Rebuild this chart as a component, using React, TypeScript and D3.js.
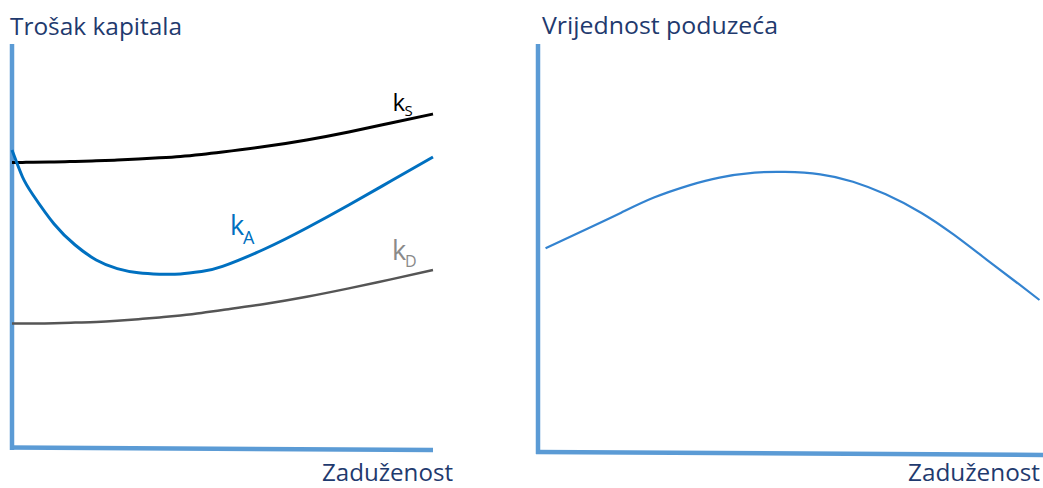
import React from "react";
import * as d3 from "d3";

// left panel: cost of capital vs leverage (values in %)
const leverage = [0, 0.025, 0.05, 0.1, 0.15, 0.2, 0.25, 0.3, 0.35, 0.4, 0.45, 0.5, 0.6, 0.7, 0.8, 0.9, 1];
const kS = [14.18, 14.18, 14.19, 14.2, 14.23, 14.26, 14.3, 14.35, 14.41, 14.48, 14.58, 14.7, 14.97, 15.3, 15.7, 16.15, 16.6];
const kA = [14.8, 13.45, 12.55, 11.1, 10.05, 9.3, 8.87, 8.66, 8.59, 8.6, 8.72, 8.98, 9.85, 10.9, 12.05, 13.25, 14.45];
const kD = [6.13, 6.13, 6.13, 6.14, 6.17, 6.2, 6.26, 6.34, 6.43, 6.53, 6.65, 6.8, 7.1, 7.46, 7.88, 8.33, 8.8];

// right panel: firm value vs leverage
const leverageV = [0.015, 0.1, 0.165, 0.23, 0.3, 0.36, 0.43, 0.49, 0.56, 0.625, 0.69, 0.76, 0.825, 0.89, 0.955, 0.995];
const firmValue = [50.2, 55.1, 58.9, 62.6, 65.6, 67.5, 68.7, 68.9, 68.3, 66.5, 63.4, 58.9, 53.5, 47.4, 41.3, 37.5];

const titles = ["Trošak kapitala", "Vrijednost poduzeća"];
const xLabel = "Zaduženost";

const W = 1043;
const H = 488;
const font = "'Open Sans', 'Noto Sans', sans-serif";
const navy = "#1f3a6e";
const axisBlue = "#5b9bd5";

const App: React.FC = () => {
  const xL = d3.scaleLinear().domain([0, 1]).range([12, 433]);
  const yL = d3.scaleLinear().domain([0, 20]).range([446, 46]);
  const xR = d3.scaleLinear().domain([0, 1]).range([538, 1042]);
  const yR = d3.scaleLinear().domain([0, 100]).range([453, 45]);

  const lineL = (vals: number[]) =>
    d3
      .line<number>()
      .x((_, i) => xL(leverage[i]))
      .y((d) => yL(d))
      .curve(d3.curveNatural)(vals) || "";

  const lineR =
    d3
      .line<number>()
      .x((_, i) => xR(leverageV[i]))
      .y((d) => yR(d))
      .curve(d3.curveNatural)(firmValue) || "";

  return (
    <svg
      width={W}
      height={H}
      style={{ position: "fixed", left: 0, top: 0, background: "#fff" }}
      fontFamily={font}
    >
      {/* left panel axes */}
      <line x1={xL(0)} y1={44} x2={xL(0)} y2={yL(0) + 4} stroke={axisBlue} strokeWidth={4.5} />
      <line x1={xL(0) - 2} y1={yL(0) + 1.5} x2={xL(1)} y2={yL(0) + 4} stroke={axisBlue} strokeWidth={4.5} />
      {/* right panel axes */}
      <line x1={xR(0)} y1={44} x2={xR(0)} y2={yR(0) + 1} stroke={axisBlue} strokeWidth={4.5} />
      <line x1={xR(0) - 2} y1={yR(0) - 1} x2={W} y2={yR(0) + 2} stroke={axisBlue} strokeWidth={4.5} />

      <path d={lineL(kD)} fill="none" stroke="#555" strokeWidth={2.5} />
      <path d={lineL(kS)} fill="none" stroke="#000" strokeWidth={3} />
      <path d={lineL(kA)} fill="none" stroke="#0070c0" strokeWidth={3} />
      <path d={lineR} fill="none" stroke="#3383d0" strokeWidth={2.2} />

      {/* curve labels */}
      <text x={392.5} y={111} fontSize={24} fill="#000">
        k
      </text>
      <text x={404.5} y={116} fontSize={15} fill="#000">
        S
      </text>
      <text x={230} y={235} fontSize={27} fill="#0070c0">
        k
      </text>
      <text x={243} y={243.5} fontSize={18} fill="#0070c0">
        A
      </text>
      <text x={392} y={260} fontSize={27} fill="#8a8a8a">
        k
      </text>
      <text x={405} y={267} fontSize={16} fill="#8a8a8a">
        D
      </text>

      {/* titles */}
      <text x={10} y={35} fontSize={24} fill={navy} textLength={172} lengthAdjust="spacingAndGlyphs">
        {titles[0]}
      </text>
      <text x={542} y={33.5} fontSize={24} fill={navy} textLength={236} lengthAdjust="spacingAndGlyphs">
        {titles[1]}
      </text>
      <text x={322} y={481} fontSize={24} fill={navy} textLength={131} lengthAdjust="spacingAndGlyphs">
        {xLabel}
      </text>
      <text x={908} y={481} fontSize={24} fill={navy} textLength={132} lengthAdjust="spacingAndGlyphs">
        {xLabel}
      </text>
    </svg>
  );
};

export default App;
